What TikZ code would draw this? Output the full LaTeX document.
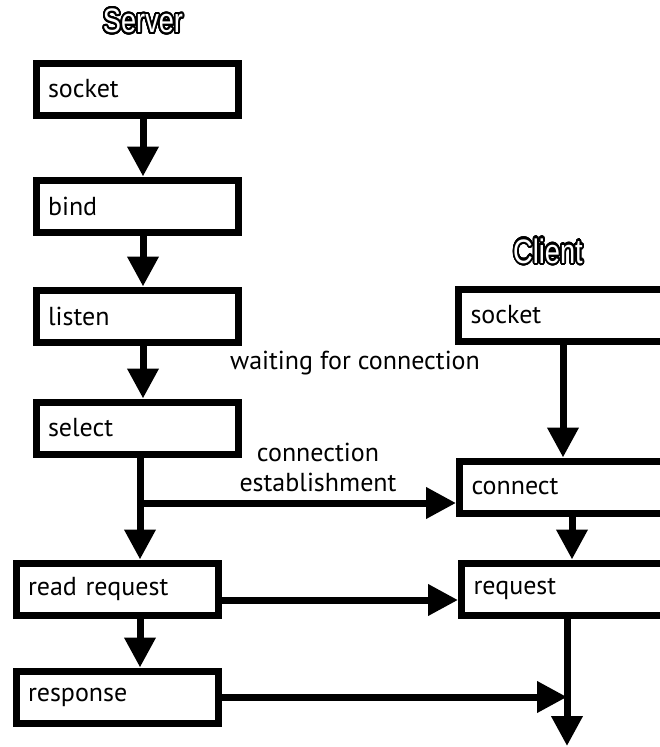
\documentclass[tikz,border=0pt]{standalone}
\usepackage{fontspec}
\setmainfont{PT Sans}
\newfontfamily\titlefont{Liberation Sans}
\usepackage{contour}
\contourlength{2.2pt}
\contournumber{32}
\usetikzlibrary{arrows.meta}
\begin{document}
\begin{tikzpicture}[x=1pt,y=-1pt,
  box/.style={draw, line width=7pt, rectangle, inner xsep=12pt, inner ysep=0pt,
    minimum height=52pt, align=left, font=\fontsize{26}{30}\selectfont},
  srv/.style={box, text width=178pt},
  cli/.style={box, text width=240pt},
  flow/.style={line width=7pt, -{Triangle[length=30pt,width=30pt]}},
  lbl/.style={font=\fontsize{26}{30}\selectfont, align=center},
  ttl/.style={font=\titlefont\fontsize{34}{40}\selectfont, inner sep=0pt}
]
\useasboundingbox (0,0) rectangle (660,747);
\clip (0,0) rectangle (660,747);

% column and row guides
\coordinate (a1) at (143,0);
\coordinate (a2) at (140,0);
\coordinate (a3) at (563,0);
\coordinate (a4) at (572,0);
\coordinate (a5) at (567,0);
\coordinate (br) at (0,503);
\coordinate (r1) at (0,600);
\coordinate (bottom) at (0,746);

% titles: white letters with a heavy black contour
\node[ttl] (tserver) at (143,22) {\scalebox{0.8}[1]{\contour{black}{\textcolor{white}{Server}}}};
\node[ttl] (tclient) at (548,252) {\scalebox{0.8}[1]{\contour{black}{\textcolor{white}{Client}}}};

% server side
\node[srv] (ssock) at (137,89)  {socket};
\node[srv] (sbind) at (137,206) {bind};
\node[srv] (slist) at (137,316) {listen};
\node[srv] (ssel)  at (137,428) {select};
\node[srv] (sread) at (117,589) {read request};
\node[srv] (sresp) at (117,697) {response};

% client side
\node[cli, anchor=west] (csock) at (455,315) {socket};
\node[cli, anchor=west] (ccon)  at (456,487) {connect};
\node[cli, anchor=west] (creq)  at (458,589) {request};

% labels
\node[lbl] (lwait) at (355,363) {waiting for connection};
\node[lbl] (lconn) at (318,467) {connection\\establishment};

% server flow
\draw[flow] (ssock.south -| a1) -- (sbind.north -| a1);
\draw[flow] (sbind.south -| a1) -- (slist.north -| a1);
\draw[flow] (slist.south -| a1) -- (ssel.north -| a1);
\draw[flow] (ssel.south -| a2) -- (sread.north -| a2);
\draw[flow] (sread.south -| a2) -- (sresp.north -| a2);

% connection establishment
\draw[flow] (a2 |- br) -- (ccon.west |- br);

% client flow
\draw[flow] (csock.south -| a3) -- (ccon.north -| a3);
\draw[flow] (ccon.south -| a4) -- (creq.north -| a4);
\draw[flow] (creq.south -| a5) -- (a5 |- bottom);

% data exchange
\draw[flow] (sread.east |- r1) -- (creq.west |- r1);
\draw[flow] (sresp.east) -- (a5 |- sresp.east);
\end{tikzpicture}
\end{document}
